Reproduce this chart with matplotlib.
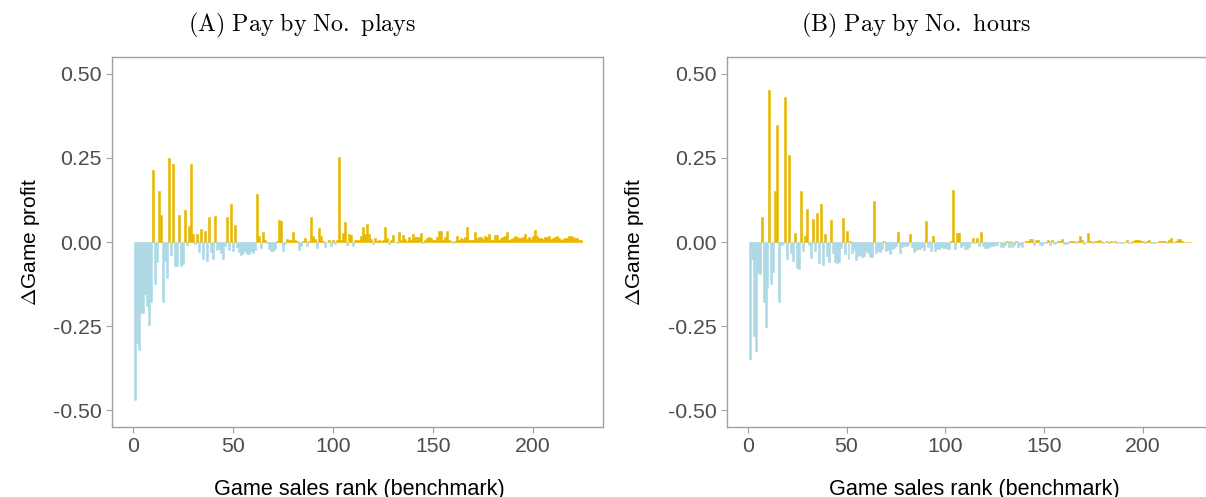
import matplotlib
matplotlib.use("Agg")
import matplotlib.pyplot as plt
import numpy as np

plt.rcParams['font.family'] = ['Liberation Sans', 'DejaVu Sans']
plt.rcParams['mathtext.fontset'] = 'cm'

# Panel A: pay by number of plays, change in game profit by sales rank 1..224
plays = [
    -0.47, -0.30, -0.32, -0.21, -0.21, -0.154, -0.19, -0.246, -0.178, 0.215,
    -0.124, -0.06, 0.153, 0.081, -0.177, -0.055, -0.107, 0.251, -0.039, 0.233,
    -0.07, -0.07, 0.079, -0.07, -0.065, 0.094, -0.01, 0.049, 0.232, 0.025,
    -0.005, 0.025, -0.031, 0.04, -0.05, 0.033, -0.057, 0.075, -0.03, -0.052,
    0.078, -0.023, -0.021, -0.033, -0.052, -0.013, 0.073, -0.023, 0.113, -0.028,
    0.05, -0.015, -0.03, -0.04, -0.033, -0.028, -0.035, -0.035, -0.028, -0.033,
    -0.023, 0.144, 0.019, -0.018, 0.029, 0.007, -0.002, -0.021, -0.028, -0.028,
    -0.021, 0.004, 0.066, 0.061, -0.028, -0.005, 0.01, 0.007, 0.007, 0.031,
    0.007, 0.002, -0.023, -0.013, 0.003, 0.013, -0.011, 0.002, 0.074, 0.019,
    0.01, -0.018, 0.043, 0.017, 0.002, -0.015, 0.001, 0.007, -0.013, 0.007,
    -0.005, 0.007, 0.253, 0.005, 0.027, 0.06, -0.008, 0.025, 0.022, -0.011,
    0.005, 0.007, 0.007, 0.017, 0.045, 0.025, 0.055, 0.025, 0.009, -0.005,
    0.011, 0.003, 0.007, 0.003, 0.007, 0.045, 0.011, -0.007, 0.005, 0.021,
    0.001, -0.003, 0.029, 0.007, 0.022, 0.009, 0.004, 0.015, 0.007, 0.025,
    0.015, 0.015, 0.015, 0.027, -0.003, 0.005, 0.011, 0.014, 0.011, 0.005,
    0.007, 0.015, 0.033, 0.032, 0.007, 0.014, 0.032, 0.007, 0.002, -0.003,
    0.004, 0.018, 0.005, 0.013, 0.009, 0.014, 0.045, 0.007, 0.005, 0.005,
    0.03, 0.013, 0.014, 0.015, 0.01, 0.017, 0.015, 0.025, 0.007, 0.007,
    0.02, 0.02, 0.007, 0.013, 0.015, 0.017, 0.029, 0.007, 0.009, 0.013,
    0.019, 0.015, 0.013, 0.012, 0.015, 0.025, 0.009, 0.015, 0.01, 0.017,
    0.035, 0.019, 0.011, 0.011, 0.01, 0.014, 0.015, 0.019, 0.01, 0.013,
    0.014, 0.018, 0.012, 0.005, 0.009, 0.011, 0.013, 0.017, 0.019, 0.014,
    0.013, 0.011, 0.007, 0.005,
]

# Panel B: pay by number of hours
hours = [
    -0.349, -0.05, -0.278, -0.323, -0.091, -0.095, 0.073, -0.177, -0.252, -0.137,
    0.452, -0.125, -0.089, 0.153, 0.348, -0.177, -0.01, -0.006, 0.43, -0.052,
    0.26, -0.032, -0.056, 0.028, -0.077, -0.079, 0.151, -0.026, 0.018, 0.097,
    -0.008, -0.048, 0.067, -0.028, 0.087, -0.062, 0.113, -0.067, 0.024, -0.042,
    -0.058, 0.065, -0.032, -0.06, -0.063, -0.06, -0.018, 0.071, -0.036, 0.034,
    -0.052, 0.002, -0.034, -0.024, -0.054, -0.042, -0.038, -0.044, -0.042, -0.028,
    -0.034, -0.046, -0.044, 0.123, -0.034, -0.026, -0.03, -0.02, 0.002, -0.026,
    -0.024, -0.036, -0.022, -0.018, -0.012, 0.031, -0.032, -0.016, -0.012, -0.012,
    -0.01, 0.024, -0.016, -0.03, -0.024, -0.02, -0.022, -0.016, -0.024, 0.063,
    -0.016, 0.002, -0.028, 0.019, -0.026, -0.022, -0.02, -0.016, -0.019, -0.018,
    -0.02, -0.02, 0.003, 0.155, -0.022, 0.028, 0.026, -0.016, -0.01, -0.02,
    -0.022, -0.016, -0.002, 0.012, -0.004, 0.012, -0.012, 0.03, -0.012, -0.018,
    -0.018, -0.014, -0.012, -0.012, -0.01, -0.008, 0.001, -0.014, -0.014, -0.01,
    0.004, -0.014, 0.002, -0.016, -0.01, 0.002, -0.016, -0.01, -0.014, 0.001,
    0.004, 0.004, 0.008, 0.008, -0.008, 0.006, 0.006, -0.01, -0.008, -0.004,
    -0.002, 0.006, -0.01, 0.006, -0.006, -0.004, 0.004, 0.004, 0.01, -0.006,
    -0.006, -0.004, 0.002, 0.002, 0.004, -0.004, 0.004, 0.018, 0.006, -0.006,
    0.001, 0.026, 0.004, 0.002, -0.004, 0.002, 0.004, 0.006, 0.002, -0.004,
    0.001, 0.002, -0.002, 0.002, 0.001, 0.004, -0.004, 0.001, -0.004, -0.002,
    0.001, 0.006, -0.004, -0.002, 0.002, 0.006, 0.006, 0.006, 0.004, 0.002,
    -0.002, 0.002, 0.006, -0.002, -0.002, -0.002, 0.001, 0.002, 0.002, 0.002,
    0.004, -0.002, 0.006, 0.012, -0.002, 0.001, 0.004, 0.008, 0.008, 0.002,
    0.001, 0.001, 0.001, 0.001,
]

titles = ["(A) Pay by No. plays", "(B) Pay by No. hours"]
pos_color = "#E7B800"
neg_color = "#ADD8E6"
axis_gray = "#4D4D4D"

W, H = 1206, 497
fig = plt.figure(figsize=(W / 100, H / 100), dpi=100)

# (values, title, left px, right px, y-label centre px, title centre px)
panels = [
    (plays, titles[0], 112, 603, 31, 302),
    (hours, titles[1], 727, 1212, 635, 916),
]

for vals, title, x0, x1, ylab_x, title_x in panels:
    vals = np.array(vals)
    rank = np.arange(1, len(vals) + 1)
    ax = fig.add_axes([x0 / W, 1 - 427 / H, (x1 - x0) / W, (427 - 57) / H])
    cols = np.where(vals >= 0, pos_color, neg_color)
    ax.bar(rank, vals, width=1.0, color=cols, edgecolor=cols, linewidth=0.4)
    ax.set_xlim(-10.5, 235)
    ax.set_ylim(-0.55, 0.55)
    ax.set_yticks([-0.5, -0.25, 0, 0.25, 0.5])
    ax.set_yticklabels(["-0.50", "-0.25", "0.00", "0.25", "0.50"])
    ax.set_xticks([0, 50, 100, 150, 200])
    for s in ax.spines.values():
        s.set_color("#A0A0A0")
        s.set_linewidth(1.0)
    ax.tick_params(colors="#A0A0A0", labelcolor=axis_gray, labelsize=15.3,
                   length=4, width=0.8)
    fig.text(ylab_x / W, 1 - 242 / H, r"$\Delta$Game profit", fontsize=15,
             rotation=90, ha="center", va="center")
    fig.text((x0 + 247) / W, 1 - 495 / H, "Game sales rank (benchmark)",
             fontsize=15.6, ha="center", va="baseline")
    fig.text(title_x / W, 1 - 25 / H,
             r"$\mathrm{" + title.replace(" ", r"\ ") + "}$",
             ha="center", va="center", fontsize=17.3)

fig.savefig("out.png", dpi=100)
